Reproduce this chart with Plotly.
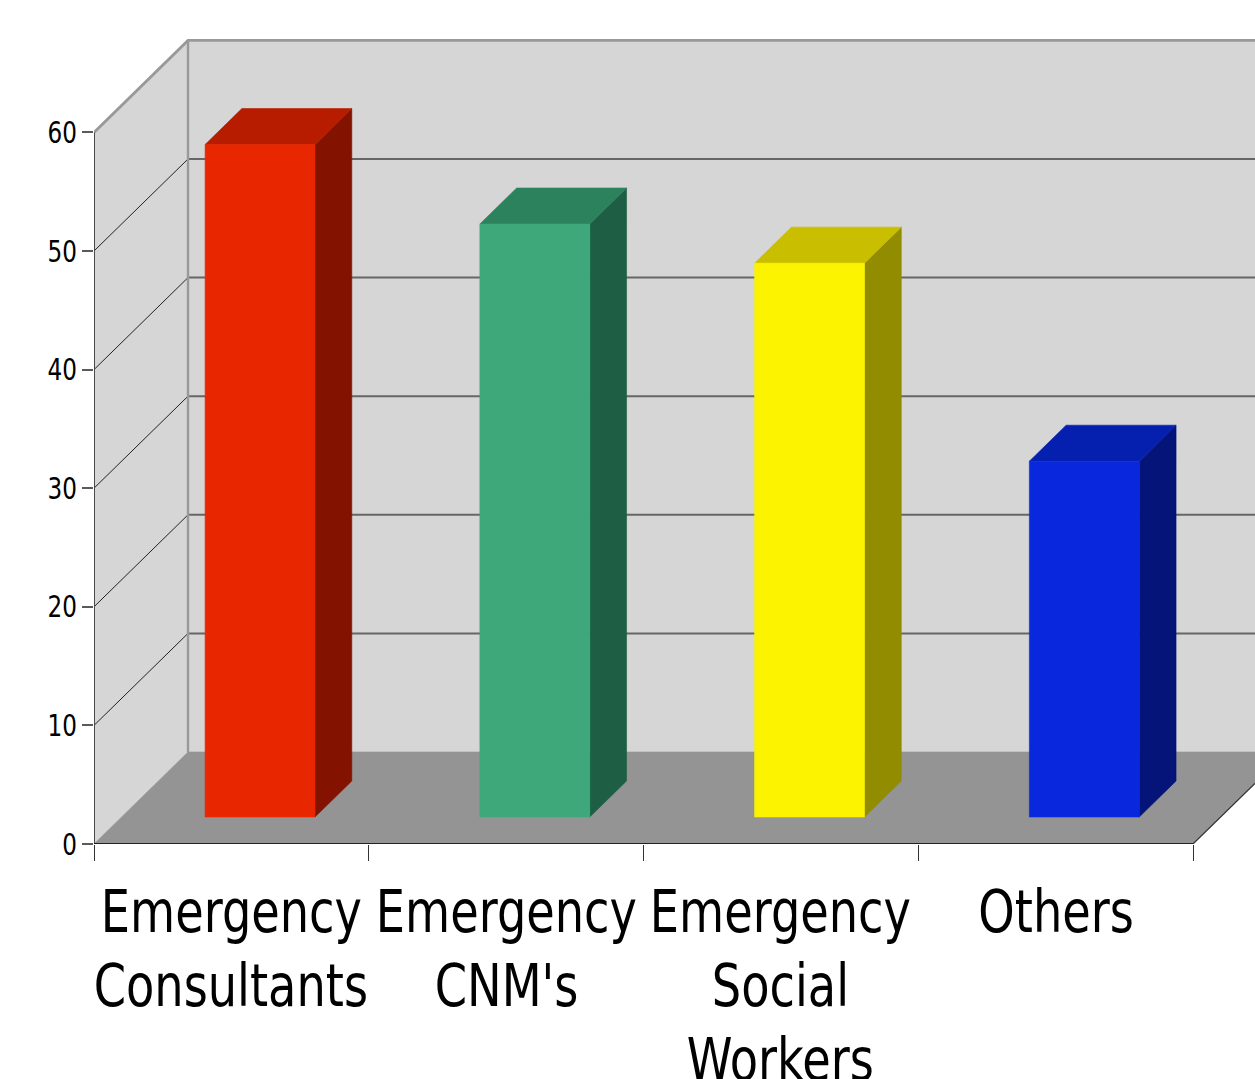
import plotly.graph_objects as go

# Chart data
categories = [
    ["Emergency", "Consultants"],
    ["Emergency", "CNM's"],
    ["Emergency", "Social", "Workers"],
    ["Others"],
]
values = [56.7, 50.0, 46.7, 30.0]
y_ticks = [0, 10, 20, 30, 40, 50, 60]

# Face colours per bar: front, top, side
front_colors = ["#E82700", "#3FA87A", "#FCF300", "#0928DE"]
top_colors = ["#B81C00", "#2C825C", "#C9BF00", "#0520AE"]
side_colors = ["#841200", "#1E5E45", "#928C00", "#041478"]

# Scale of the plotting box
W, H = 1255, 1079
LEFT, BASE = 94, 844
PX_PER_CAT = 274.75
PX_PER_UNIT = 11.86

# Oblique projection: how far the back wall is shifted, in axis units
DX = 94 / PX_PER_CAT
DY = 92 / PX_PER_UNIT
BAR_NEAR = 27 / 92
BAR_FAR = 63 / 92
BAR_LEFT = 0.304
BAR_WIDTH = 0.4
Y_TOP = 60
X_END = 4 + 2 * DX

WALL = "#D6D6D6"
FLOOR = "#949494"
FRAME = "#999999"

fig = go.Figure()


def face(xs, ys, color, edge=None, width=0.6):
    fig.add_trace(go.Scatter(
        x=xs + xs[:1], y=ys + ys[:1], mode="lines", fill="toself",
        fillcolor=color, line=dict(color=edge or color, width=width),
        hoverinfo="skip",
    ))


def stroke(xs, ys, color, width):
    fig.add_trace(go.Scatter(
        x=xs, y=ys, mode="lines", line=dict(color=color, width=width),
        hoverinfo="skip",
    ))


# Walls and floor
face([DX, X_END, X_END, DX], [DY, DY, Y_TOP + DY, Y_TOP + DY], WALL)
face([0, DX, DX, 0], [0, DY, Y_TOP + DY, Y_TOP], WALL)
face([0, 4, 4 + DX, DX], [0, 0, DY, DY], FLOOR)

# Grid lines run across the side wall, then along the back wall
for t in y_ticks[1:-1]:
    stroke([0, DX], [t, t + DY], "#222222", 1)
    stroke([DX, X_END], [t + DY, t + DY], "#666666", 2)

# Outer frame of the back wall
stroke([0, DX, X_END], [Y_TOP, Y_TOP + DY, Y_TOP + DY], FRAME, 2.8)
stroke([DX, DX], [DY, Y_TOP + DY], FRAME, 2.4)
stroke([4, 4 + DX], [0, DY], "#333333", 1.2)

# Extruded bars
for i, v in enumerate(values):
    x0 = i + BAR_LEFT + BAR_NEAR * DX
    x1 = x0 + BAR_WIDTH
    y0 = BAR_NEAR * DY
    y1 = y0 + v
    ox = (BAR_FAR - BAR_NEAR) * DX
    oy = (BAR_FAR - BAR_NEAR) * DY
    face([x1, x1 + ox, x1 + ox, x1], [y0, y0 + oy, y1 + oy, y1], side_colors[i])
    face([x0, x1, x1 + ox, x0 + ox], [y1, y1, y1 + oy, y1 + oy], top_colors[i])
    face([x0, x1, x1, x0], [y0, y0, y1, y1], front_colors[i])

# Category labels, one annotation per line so the leading can be set freely
FIRST_LINE = 67
LEADING = 74
annotations = []
for i, lines in enumerate(categories):
    for n, line in enumerate(lines):
        annotations.append(dict(
            x=i + 0.5, xref="x", y=0, yref="paper",
            text=line, showarrow=False, xanchor="center", yanchor="middle",
            yshift=-(FIRST_LINE + n * LEADING),
            font=dict(family="DejaVu Sans", size=59, color="#000000"),
        ))

fig.update_layout(
    width=W, height=H,
    margin=dict(l=LEFT, r=0, t=0, b=H - BASE, pad=0),
    paper_bgcolor="#FFFFFF", plot_bgcolor="#FFFFFF",
    showlegend=False, hovermode=False,
    annotations=annotations,
    xaxis=dict(
        range=[0, (W - LEFT) / PX_PER_CAT],
        showgrid=False, zeroline=False, showline=False,
        tickmode="array", tickvals=[], showticklabels=False,
        minor=dict(tickmode="array", tickvals=[0, 1, 2, 3, 4], ticks="outside",
                   ticklen=16, tickwidth=1.2, tickcolor="#333333"),
    ),
    yaxis=dict(
        range=[0, BASE / PX_PER_UNIT],
        showgrid=False, zeroline=False,
        tickmode="array", tickvals=y_ticks,
        ticks="outside", ticklen=11, tickwidth=1.5, tickcolor="#5A5A5A",
        tickfont=dict(family="DejaVu Sans", size=30, color="#000000"),
        ticklabelstandoff=3,
    ),
    shapes=[
        dict(type="line", xref="x", yref="y", x0=0, x1=0, y0=0, y1=Y_TOP,
             line=dict(color="#4A4A4A", width=2)),
        dict(type="line", xref="x", yref="y", x0=0, x1=4, y0=0, y1=0,
             line=dict(color="#222222", width=2)),
    ],
)

# Narrow the letterforms horizontally, pivoting on each label's anchor edge
narrow_text = """
document.querySelectorAll('.annotation-text').forEach(function (t) {
  var b = t.getBBox(), c = b.x + b.width / 2, p = t.getAttribute('transform') || '';
  t.setAttribute('transform', p + ' translate(' + c + ',0) scale(0.785,1) translate(' + (-c) + ',0)');
});
document.querySelectorAll('.ytick text').forEach(function (t) {
  var b = t.getBBox(), c = b.x + b.width, p = t.getAttribute('transform') || '';
  t.setAttribute('transform', p + ' translate(' + (c + 4) + ',0) scale(0.77,1) translate(' + (-c) + ',0)');
});
"""

fig.write_html("out.html", post_script=narrow_text, config={"displayModeBar": False})
